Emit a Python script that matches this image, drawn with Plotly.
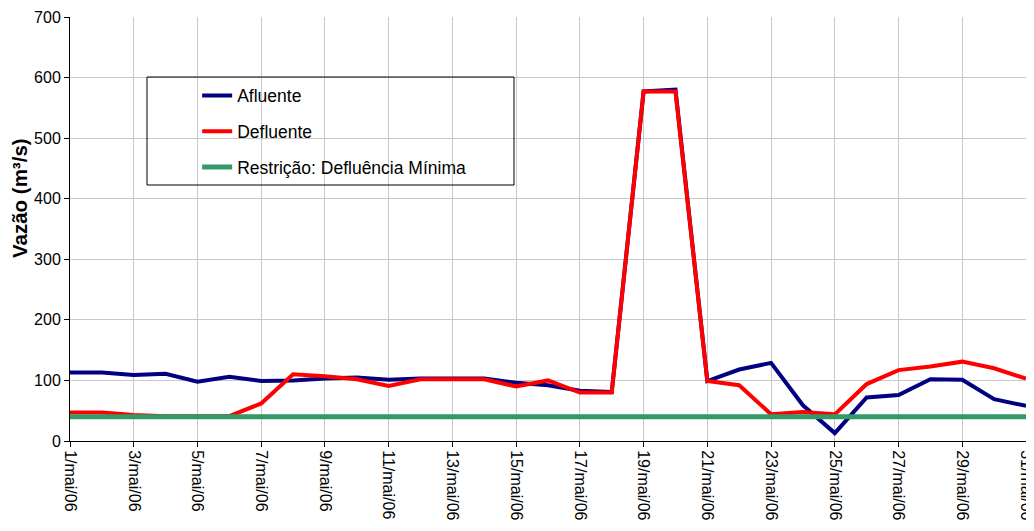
import plotly.graph_objects as go

days = list(range(1, 32))
date_labels = [f"{d}/mai/06" for d in days]

afluente = [113, 113, 109, 111, 98, 106, 99, 100, 103, 105, 101,
            103, 103, 103, 96, 92, 83, 81, 577, 580, 99,
            118, 129, 59, 13, 72, 76, 102, 101, 69, 58]
defluente = [47, 47, 43, 41, 41, 41, 62, 110, 107, 102, 91,
             102, 102, 102, 90, 100, 80, 80, 577, 577, 99,
             92, 44, 48, 44, 94, 117, 123, 131, 120, 103]
restricao = [40] * 31

tick_idx = list(range(0, 31, 2))

fig = go.Figure()
fig.add_trace(go.Scatter(x=date_labels, y=afluente, mode="lines", name="Afluente",
                         line=dict(color="#000080", width=4), legendgroup="a"))
fig.add_trace(go.Scatter(x=date_labels, y=defluente, mode="lines", name="Defluente",
                         line=dict(color="#FF0000", width=4), legendgroup="b"))
fig.add_trace(go.Scatter(x=date_labels, y=restricao, mode="lines", name="Restrição: Defluência Mínima",
                         line=dict(color="#339966", width=5), legendgroup="c"))

# page body has an 8px margin, so the figure is drawn 8px in and 8px down
fig.update_layout(
    width=1026, height=523,
    margin=dict(l=62, r=8, t=9, b=90, autoexpand=False),
    paper_bgcolor="white", plot_bgcolor="white",
    font=dict(family="Arial, Liberation Sans, sans-serif", size=16, color="black"),
    showlegend=True,
    legend=dict(x=0.133, y=0.857, xanchor="left", yanchor="top",
                bgcolor="rgba(0,0,0,0)", borderwidth=0,
                font=dict(size=17.5), tracegroupgap=10, traceorder="grouped"),
    shapes=[dict(type="rect", xref="paper", yref="paper",
                 x0=(147 - 70) / 956, x1=(514 - 70) / 956,
                 y0=(441 - 185) / 424, y1=(441 - 77) / 424,
                 line=dict(color="black", width=1), fillcolor="rgba(0,0,0,0)")],
    annotations=[dict(text="<b>Vazão (m³/s)</b>", textangle=-90, showarrow=False,
                      xref="paper", yref="paper", x=-(70 - 19) / 956, y=(441 - 198) / 424,
                      xanchor="center", yanchor="middle", font=dict(size=20.5))],
)
fig.update_xaxes(
    type="category", range=[0, 30], automargin=False,
    tickmode="array", tickvals=[date_labels[i] for i in tick_idx],
    ticktext=[date_labels[i] for i in tick_idx],
    tickangle=90, ticks="outside", ticklen=5, tickcolor="black",
    showgrid=True, gridcolor="#C8C8C8", gridwidth=1,
    showline=True, linecolor="black", linewidth=1,
    tickfont=dict(size=16), zeroline=False,
)
fig.update_yaxes(
    range=[0, 700], dtick=100, ticks="outside", ticklen=5, tickcolor="black",
    automargin=False,
    showgrid=True, gridcolor="#C8C8C8", gridwidth=1,
    showline=True, linecolor="black", linewidth=1, zeroline=False,
    tickfont=dict(size=16),
)

fig.write_html("out.html")
